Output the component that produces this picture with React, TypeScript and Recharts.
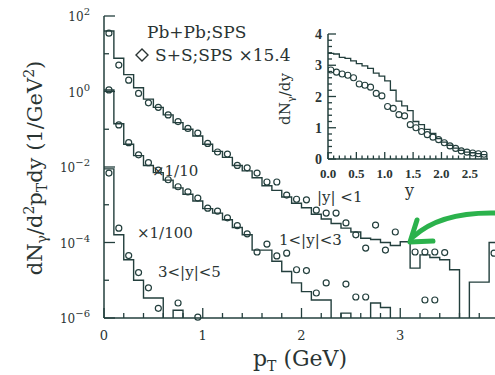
import React from "react";
import { ComposedChart, Line, XAxis, YAxis } from "recharts";

const INK = "#233f3d";
const TEXT = "#2a3433";
const SERIF = "'DejaVu Serif', serif";
const TIMES = "'Liberation Serif', serif";
const EMPTY = 1e-9; // empty bin, sits below the log axis and gets clipped
const GAP = 10; // tickMargin on every axis, the custom ticks draw their own marks

// ---- main panel: photon pT spectra, 0.1 GeV bins starting at pT = 0 ----
const PT_BIN = 0.1;

// Pb+Pb, |y|<1
const HIST_Y1 = [
  40, 7.6, 2.8, 1.26, 0.63, 0.38, 0.24, 0.15, 0.1, 0.066,
  0.04, 0.026, 0.018, 0.011, 0.0079, 0.0052, 0.0032, 0.0024, 0.0016, 0.0011,
  8.3e-4, 5.6e-4, 4.2e-4, 3.2e-4, 2.4e-4, 1.9e-4, 1.3e-4, 1.2e-4, 1.0e-4, 8.3e-5,
  1.05e-4, 2.1e-5, 4.7e-5, 4.0e-5, 3.5e-5, 1.9e-5, EMPTY, 8.9e-6, 8.9e-6, 1.0e-4,
];
// Pb+Pb, 1<|y|<3, x1/10
const HIST_Y13 = [
  1.1, 0.14, 0.04, 0.02, 0.011, 0.0071, 0.0045, 0.0028, 0.0019, 0.00126,
  7.9e-4, 6.0e-4, 4.0e-4, 2.5e-4, 1.6e-4, 6.3e-5, 6.3e-5, 3.2e-5, 1.7e-5, 8.5e-6,
  5.0e-6, 3.0e-6, 3.0e-6, EMPTY, 1.35e-6, EMPTY, EMPTY, 2.5e-6, 1.9e-6, EMPTY,
];
// Pb+Pb, 3<|y|<5, x1/100
const HIST_Y35 = [0.0089, 1.6e-4, 3.5e-5, 1.0e-5, 3.4e-6, 3.4e-6, EMPTY, 1.6e-6, EMPTY];

// S+S x15.4 points (bin centres)
const SS_Y1_PT = [
  0.05, 0.15, 0.25, 0.35, 0.45, 0.55, 0.65, 0.75, 0.85, 0.95,
  1.05, 1.15, 1.25, 1.35, 1.45, 1.55, 1.65, 1.75, 1.85, 1.95,
  2.05, 2.15, 2.25, 2.35, 2.45, 2.55, 2.65, 2.75, 2.85, 2.95,
  3.15, 3.25, 3.35, 3.45, 3.95,
];
const SS_Y1 = [
  35, 5.0, 2.0, 0.89, 0.5, 0.38, 0.24, 0.16, 0.105, 0.079,
  0.042, 0.025, 0.022, 0.011, 0.0095, 0.0069, 0.004, 0.004, 0.0018, 0.0014,
  0.00135, 7.2e-4, 6.0e-4, 6.0e-4, 3.3e-4, 1.6e-4, 7.1e-5, 2.9e-4, 6.3e-5, 1.9e-4,
  5.6e-5, 5.6e-5, 5.6e-5, 5.4e-5, 5.2e-5,
];
const SS_Y13_PT = [
  0.05, 0.15, 0.25, 0.35, 0.45, 0.55, 0.65, 0.75, 0.85, 0.95,
  1.05, 1.15, 1.25, 1.35, 1.45, 1.55, 1.65, 1.75, 1.85, 1.95,
  2.05, 2.15, 2.25, 2.45, 2.55, 2.65, 3.25, 3.35,
];
const SS_Y13 = [
  1.1, 0.13, 0.044, 0.021, 0.013, 0.0083, 0.0046, 0.003, 0.0022, 0.0015,
  8.1e-4, 6.8e-4, 4.5e-4, 2.8e-4, 1.7e-4, 5.6e-5, 9.1e-5, 4.4e-5, 5.2e-5, 1.9e-5,
  1.8e-5, 4.6e-6, 8.5e-6, 7.9e-6, 3.6e-6, 3.6e-6, 3.0e-6, 3.0e-6,
];
const SS_Y35_PT = [0.05, 0.15, 0.25, 0.35, 0.45, 0.55, 0.75, 0.95];
const SS_Y35 = [0.0069, 2.4e-4, 4.5e-5, 1.6e-5, 6.3e-6, 1.8e-6, 2.5e-6, 1.05e-6];

const PT_TICKS = [0, 0.2, 0.4, 0.6, 0.8, 1, 1.2, 1.4, 1.6, 1.8, 2, 2.2, 2.4, 2.6, 2.8, 3, 3.2, 3.4, 3.6, 3.8, 4];
const PT_LABELS = [0, 1, 2, 3]; // "4" falls outside the cropped picture
const DECADES = [1e2, 1e1, 1, 1e-1, 1e-2, 1e-3, 1e-4, 1e-5, 1e-6];

// ---- inset: dN/dy vs rapidity ----
const Y_BIN = 0.1;
const INSET_HIST = [
  3.38, 3.36, 3.25, 3.22, 3.14, 3.05, 2.98, 2.9, 2.75, 2.65,
  2.5, 2.2, 1.85, 1.7, 1.55, 1.2, 1.1, 0.95, 0.82, 0.65,
  0.54, 0.44, 0.35, 0.28, 0.22, 0.2, 0.17, 0.14,
];
const INSET_SS_Y = [
  0.05, 0.15, 0.25, 0.35, 0.45, 0.55, 0.65, 0.75, 0.85, 0.95,
  1.05, 1.15, 1.25, 1.35, 1.45, 1.55, 1.65, 1.75, 1.85, 1.95,
  2.05, 2.15, 2.25, 2.35, 2.45, 2.55, 2.65, 2.75,
];
const INSET_SS = [
  2.85, 2.78, 2.72, 2.68, 2.6, 2.4, 2.36, 2.3, 2.1, 2.02,
  1.68, 1.62, 1.42, 1.38, 1.1, 1.0, 0.88, 0.78, 0.7, 0.62,
  0.52, 0.42, 0.34, 0.26, 0.22, 0.19, 0.17, 0.15,
];
const INSET_X_TICKS = [0, 0.1, 0.2, 0.3, 0.4, 0.5, 0.6, 0.7, 0.8, 0.9, 1, 1.1, 1.2, 1.3, 1.4, 1.5, 1.6, 1.7, 1.8, 1.9, 2, 2.1, 2.2, 2.3, 2.4, 2.5, 2.6, 2.7, 2.8];
const INSET_Y_TICKS = [0, 0.2, 0.4, 0.6, 0.8, 1, 1.2, 1.4, 1.6, 1.8, 2, 2.2, 2.4, 2.6, 2.8, 3, 3.2, 3.4, 3.6, 3.8, 4];

function steps(vals: number[], width: number) {
  const rows = vals.map((y, i) => ({ x: +(i * width).toFixed(3), y }));
  rows.push({ x: +(vals.length * width).toFixed(3), y: vals[vals.length - 1] });
  return rows;
}
const pts = (xs: number[], ys: number[]) => xs.map((x, i) => ({ x, y: ys[i] }));

const isInt = (v: number) => Math.abs(v - Math.round(v)) < 1e-6;
const isHalf = (v: number) => Math.abs(v * 2 - Math.round(v * 2)) < 1e-6;
const isEvenDecade = (v: number) => Math.round(Math.log10(v)) % 2 === 0;

type Side = "bottom" | "top" | "left" | "right";
interface TickOpts {
  side: Side;
  major: (v: number) => boolean;
  long: number;
  short: number;
  label?: (v: number, x: number, y: number) => React.ReactNode;
}

// inward tick marks (the plots have ticks on all four sides) plus labels on majors
const tick = (o: TickOpts) => (p: any) => {
  const { x, y, payload } = p;
  const v = payload.value as number;
  const big = o.major(v);
  const len = big ? o.long : o.short;
  let ax = x, ay = y, l;
  if (o.side === "bottom") { ay = y - GAP; l = <line x1={x} x2={x} y1={ay} y2={ay - len} />; }
  else if (o.side === "top") { ay = y + GAP; l = <line x1={x} x2={x} y1={ay} y2={ay + len} />; }
  else if (o.side === "left") { ax = x + GAP; l = <line x1={ax} x2={ax + len} y1={y} y2={y} />; }
  else { ax = x - GAP; l = <line x1={ax} x2={ax - len} y1={y} y2={y} />; }
  return (
    <g stroke={INK} strokeWidth={1.3}>
      {l}
      {big && o.label ? o.label(v, ax, ay) : null}
    </g>
  );
};

const decadeLabel = (v: number, ax: number, y: number) => {
  const e = Math.round(Math.log10(v));
  return (
    <text x={ax - 14} y={y + 5} textAnchor="end" fontFamily={SERIF} fontSize={12} fill={TEXT} stroke="none">
      10<tspan dy={-6} fontSize={10}>{e < 0 ? `\u2212${-e}` : e}</tspan>
    </text>
  );
};

const axisCommon = {
  type: "number" as const,
  allowDataOverflow: true,
  interval: 0 as const,
  tickSize: 0,
  tickMargin: GAP,
  tickLine: false,
  axisLine: { stroke: INK, strokeWidth: 1.5 },
};

function MainPanel() {
  const histLine = (data: any[], key: string) => (
    <Line key={key} xAxisId="b" yAxisId="l" data={data} dataKey="y" type="stepAfter"
      stroke={INK} strokeWidth={1.4} dot={false} activeDot={false} isAnimationActive={false} />
  );
  const ptLine = (data: any[], key: string) => (
    <Line key={key} xAxisId="b" yAxisId="l" data={data} dataKey="y" type="linear" stroke="none"
      dot={{ r: 3, stroke: INK, strokeWidth: 1.2, fill: "none", clipDot: false } as any}
      activeDot={false} isAnimationActive={false} />
  );
  return (
    <ComposedChart width={501} height={375} margin={{ top: 16, right: 2, bottom: 0, left: 0 }}>
      <XAxis xAxisId="b" dataKey="x" domain={[0, 4]} ticks={PT_TICKS} height={57} {...axisCommon}
        tick={tick({
          side: "bottom", major: isInt, long: 10, short: 5,
          label: (v, x, ay) => PT_LABELS.includes(v) ? (
            <text x={x} y={ay + 22} textAnchor="middle" fontFamily={SERIF} fontSize={13} fill={TEXT} stroke="none">{v}</text>
          ) : null,
        })} />
      <XAxis xAxisId="t" orientation="top" dataKey="x" domain={[0, 4]} ticks={PT_TICKS} height={0} {...axisCommon}
        tick={tick({ side: "top", major: isInt, long: 10, short: 5 })} />
      <YAxis yAxisId="l" scale="log" domain={[1e-6, 100]} ticks={DECADES} width={104} {...axisCommon}
        tick={tick({ side: "left", major: isEvenDecade, long: 11, short: 5, label: decadeLabel })} />
      {histLine(steps(HIST_Y1, PT_BIN), "h1")}
      {histLine(steps(HIST_Y13, PT_BIN), "h13")}
      {histLine(steps(HIST_Y35, PT_BIN), "h35")}
      {ptLine(pts(SS_Y1_PT, SS_Y1), "p1")}
      {ptLine(pts(SS_Y13_PT, SS_Y13), "p13")}
      {ptLine(pts(SS_Y35_PT, SS_Y35), "p35")}
    </ComposedChart>
  );
}

function InsetPanel() {
  return (
    <ComposedChart width={225} height={180} margin={{ top: 14, right: 7, bottom: 0, left: 0 }}>
      <XAxis xAxisId="b" dataKey="x" domain={[0, 2.82]} ticks={INSET_X_TICKS} height={41} {...axisCommon}
        tick={tick({
          side: "bottom", major: isHalf, long: 7, short: 3.5,
          label: (v, x, ay) => (
            <text x={x} y={ay + 19} textAnchor="middle" fontFamily={TIMES} fontWeight="bold" fontSize={13} fill={TEXT} stroke="none">{v.toFixed(1)}</text>
          ),
        })} />
      <XAxis xAxisId="t" orientation="top" dataKey="x" domain={[0, 2.82]} ticks={INSET_X_TICKS} height={0} {...axisCommon}
        tick={tick({ side: "top", major: isHalf, long: 7, short: 3.5 })} />
      <YAxis yAxisId="l" domain={[0, 4]} ticks={INSET_Y_TICKS} width={58} {...axisCommon}
        tick={tick({
          side: "left", major: isInt, long: 8, short: 4,
          label: (v, ax, y) => (
            <text x={ax - 6} y={y + 5} textAnchor="end" fontFamily={TIMES} fontWeight="bold" fontSize={14} fill={TEXT} stroke="none">{v}</text>
          ),
        })} />
      <YAxis yAxisId="r" orientation="right" domain={[0, 4]} ticks={INSET_Y_TICKS} width={0} {...axisCommon}
        tick={tick({ side: "right", major: isInt, long: 8, short: 4 })} />
      <Line xAxisId="b" yAxisId="l" data={steps(INSET_HIST, Y_BIN)} dataKey="y" type="stepAfter"
        stroke={INK} strokeWidth={1.3} dot={false} activeDot={false} isAnimationActive={false} />
      <Line xAxisId="b" yAxisId="l" data={pts(INSET_SS_Y, INSET_SS)} dataKey="y" type="linear" stroke="none"
        dot={{ r: 3, stroke: INK, strokeWidth: 1.1, fill: "none" }} activeDot={false} isAnimationActive={false} />
    </ComposedChart>
  );
}

function Annotations() {
  const t = { fontFamily: SERIF, fill: TEXT };
  return (
    <svg width={495} height={375} style={{ position: "absolute", left: 0, top: 0, pointerEvents: "none" }}>
      <text {...t} fontSize={17} x={147} y={38}>Pb+Pb;SPS</text>
      <path d="M142 49 L148 55 L142 61 L136 55 Z" fill="none" stroke={TEXT} strokeWidth={1.4} />
      <text {...t} fontSize={17} x={155} y={61}>S+S;SPS ×15.4</text>
      <text {...t} fontSize={15} x={152} y={176}>×1/10</text>
      <text {...t} fontSize={15} x={137} y={238}>×1/100</text>
      <text {...t} fontSize={15} x={158} y={277}>3&lt;|y|&lt;5</text>
      <text {...t} fontSize={15} x={317} y={202}>|y| &lt;1</text>
      <text {...t} fontSize={15} x={279} y={245}>1&lt;|y|&lt;3</text>
      <text {...t} fontSize={16} x={405} y={196}>y</text>
      <text {...t} fontSize={15} textAnchor="middle" transform="translate(290,99) rotate(-90)">
        dN<tspan dy={4} fontSize={10}>γ</tspan><tspan dy={-4}>/dy</tspan>
      </text>
      <text {...t} fontSize={21} textAnchor="middle" transform="translate(42,168) rotate(-90)">
        dN<tspan dy={5} fontSize={14}>γ</tspan><tspan dy={-5}>/d</tspan><tspan dy={-8} fontSize={14}>2</tspan>
        <tspan dy={8}>p</tspan><tspan dy={5} fontSize={14}>T</tspan><tspan dy={-5}>dy (1/GeV</tspan>
        <tspan dy={-8} fontSize={14}>2</tspan><tspan dy={8}>)</tspan>
      </text>
      <text {...t} fontSize={22} textAnchor="middle" x={300} y={366}>
        p<tspan dy={5} fontSize={14}>T</tspan><tspan dy={-5}> (GeV)</tspan>
      </text>
      <g stroke="#2bb24c" strokeWidth={5} fill="none" strokeLinecap="round" strokeLinejoin="round">
        <path d="M413 237 Q440 212 495 213" />
        <path d="M417 220 L410 242 L433 241" />
      </g>
    </svg>
  );
}

export default function App() {
  return (
    <div style={{ position: "absolute", left: 0, top: 0, width: 495, height: 375, overflow: "hidden", background: "#fff" }}>
      <MainPanel />
      <div style={{ position: "absolute", left: 270, top: 20 }}>
        <InsetPanel />
      </div>
      <Annotations />
    </div>
  );
}
